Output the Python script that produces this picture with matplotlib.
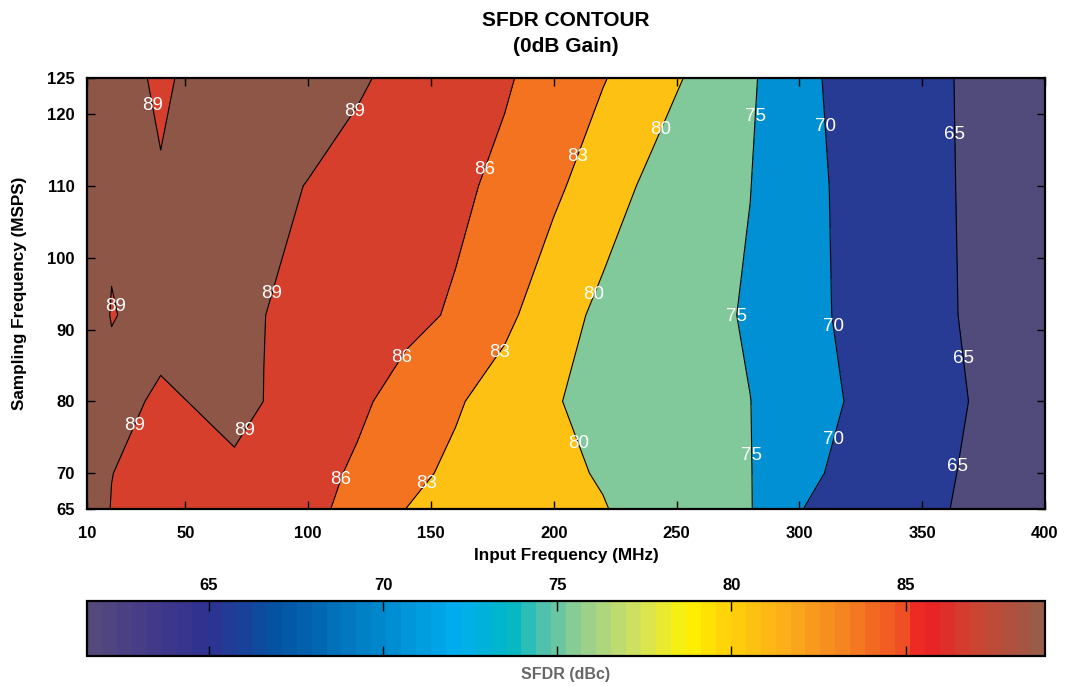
import numpy as np
import matplotlib
matplotlib.use("Agg")
import matplotlib.pyplot as plt
from matplotlib.colors import ListedColormap, LinearSegmentedColormap, Normalize
from matplotlib.cm import ScalarMappable

plt.rcParams['font.family'] = ['Liberation Sans', 'DejaVu Sans']

# grid
input_freq = [10, 20, 40, 70, 82, 100, 120, 140, 160, 180, 200, 220, 240, 260, 280, 300, 320, 340, 360, 380, 400]
sample_freq = [65, 70, 80, 92, 110, 125]

sfdr_65 = [89.8, 88.95, 88.3, 87.32, 86.93, 86.6, 85.3, 82.98, 82.28, 81.58, 80.88, 80.18, 78.69, 76.95, 75.21, 70.14, 68.39, 66.74, 65.09, 63.78, 62.5]
sfdr_70 = [89.8, 89.02, 88.5, 88.39, 88.0, 86.94, 85.62, 83.71, 82.46, 81.59, 80.72, 79.73, 78.2, 76.67, 75.14, 71.26, 68.79, 67.05, 65.31, 63.8, 62.3]
sfdr_80 = [90.5, 90.3, 88.39, 90.08, 88.98, 87.81, 86.5, 84.97, 83.31, 81.76, 80.24, 78.91, 77.62, 76.33, 75.04, 72.37, 69.76, 67.81, 65.86, 63.92, 62.0]
sfdr_92 = [91.5, 88.8, 90.42, 90.5, 89.03, 88.29, 87.49, 86.69, 85.7, 83.65, 81.32, 79.3, 77.78, 76.27, 74.52, 71.62, 69.16, 67.26, 65.36, 63.8, 62.3]
sfdr_110 = [90.2, 89.7, 89.15, 89.8, 89.4, 88.95, 88.16, 87.35, 86.54, 85.39, 83.53, 81.46, 79.32, 77.2, 75.07, 71.58, 68.98, 67.14, 65.29, 63.7, 62.2]
sfdr_125 = [90.0, 89.8, 88.7, 90.26, 90.0, 89.75, 89.3, 88.32, 87.31, 86.3, 84.83, 83.16, 81.38, 79.21, 75.7, 71.0, 68.83, 67.04, 65.24, 63.61, 62.0]

contour_levels = [65, 70, 75, 80, 83, 86, 89]
x_ticks = [10, 50, 100, 150, 200, 250, 300, 350, 400]
y_ticks = [65, 70, 80, 90, 100, 110, 120, 125]
cbar_ticks = [65, 70, 75, 80, 85]

# where the labels sit (data coords)
label_pos = [(38, 121.3), (21.7, 93.2), (28.6, 76.7), (74, 75.9), (84.8, 95), (118.4, 120.5),
             (174.4, 112), (143.8, 84.8), (114.8, 68.9),
             (210, 114), (176.5, 87.1), (147.6, 68.7),
             (245.3, 117.6), (214.5, 95.1), (211, 74.2),
             (282.9, 119.6), (276.3, 91.9), (281.6, 72.4),
             (307.8, 118.2), (311.9, 90.3), (311.9, 74.9),
             (362.7, 117.1), (366.1, 85.9), (363.8, 71)]

Z = np.array([sfdr_65, sfdr_70, sfdr_80, sfdr_92, sfdr_110, sfdr_125])
X, Y = np.meshgrid(input_freq, sample_freq)

fill_colors = ['#514B7B', '#273A94', '#0090D3', '#81C99B', '#FDC113', '#F37321', '#D53F2B', '#8D5646']

fig = plt.figure(figsize=(10.65, 6.86), dpi=100)
ax = fig.add_axes([0.0817, 0.258, 0.8995, 0.628])

cf = ax.contourf(X, Y, Z, levels=[50] + contour_levels + [100], colors=fill_colors)
cs = ax.contour(X, Y, Z, levels=contour_levels, colors='black', linewidths=0.8)
texts = ax.clabel(cs, contour_levels, manual=label_pos, inline=False, colors='white',
                  fmt='%d', fontsize=13.5)
for t in texts:
    t.set_rotation(0)

ax.set_xlim(10, 400)
ax.set_ylim(65, 125)
ax.set_xticks(x_ticks)
ax.set_yticks(y_ticks)
ax.tick_params(direction='in', top=True, right=True, length=6, width=1, labelsize=12)
ax.tick_params(axis='x', pad=12)
ax.tick_params(axis='y', pad=9)
for lab in ax.get_xticklabels() + ax.get_yticklabels():
    lab.set_fontweight('bold')
for s in ax.spines.values():
    s.set_linewidth(1.6)

ax.set_xlabel('Input Frequency (MHz)', fontsize=12.3, fontweight='bold', labelpad=5)
ax.set_ylabel('Sampling Frequency (MSPS)', fontsize=12.3, fontweight='bold', labelpad=14)
ax.set_title('SFDR CONTOUR\n(0dB Gain)', fontsize=15, fontweight='bold', pad=19, linespacing=1.45)

# colour bar, 64 steps like the original
cb_colors = [(0.0, '#54497A'), (0.05, '#463B87'), (0.12, '#2E3192'), (0.19, '#0452A2'),
             (0.30, '#0086CA'), (0.385, '#00AEEF'), (0.44, '#00B7C4'), (0.48, '#5CC3A8'),
             (0.53, '#A3D286'), (0.58, '#D5E25B'), (0.63, '#FFF200'), (0.67, '#FFD20A'),
             (0.74, '#FBA91C'), (0.80, '#F58220'), (0.86, '#EF4E24'), (0.88, '#ED1C24'),
             (0.93, '#CF4230'), (1.0, '#9A5B48')]
cb_cmap = ListedColormap(LinearSegmentedColormap.from_list('sfdr', cb_colors)(np.linspace(0, 1, 64)))

cax = fig.add_axes([0.0817, 0.0437, 0.8995, 0.0802])
sm = ScalarMappable(norm=Normalize(61.5, 89), cmap=cb_cmap)
cb = fig.colorbar(sm, cax=cax, orientation='horizontal', ticks=cbar_ticks)
cb.outline.set_linewidth(1.6)
cax.tick_params(axis='x', direction='in', top=True, bottom=True, labeltop=True,
                labelbottom=False, length=7, width=1, labelsize=12, pad=6)
for lab in cax.get_xticklabels():
    lab.set_fontweight('bold')
cax.xaxis.set_label_position('bottom')
cax.set_xlabel('SFDR (dBc)', fontsize=11.5, fontweight='bold', color='#666666', labelpad=8)

fig.savefig('out.png', dpi=100)
